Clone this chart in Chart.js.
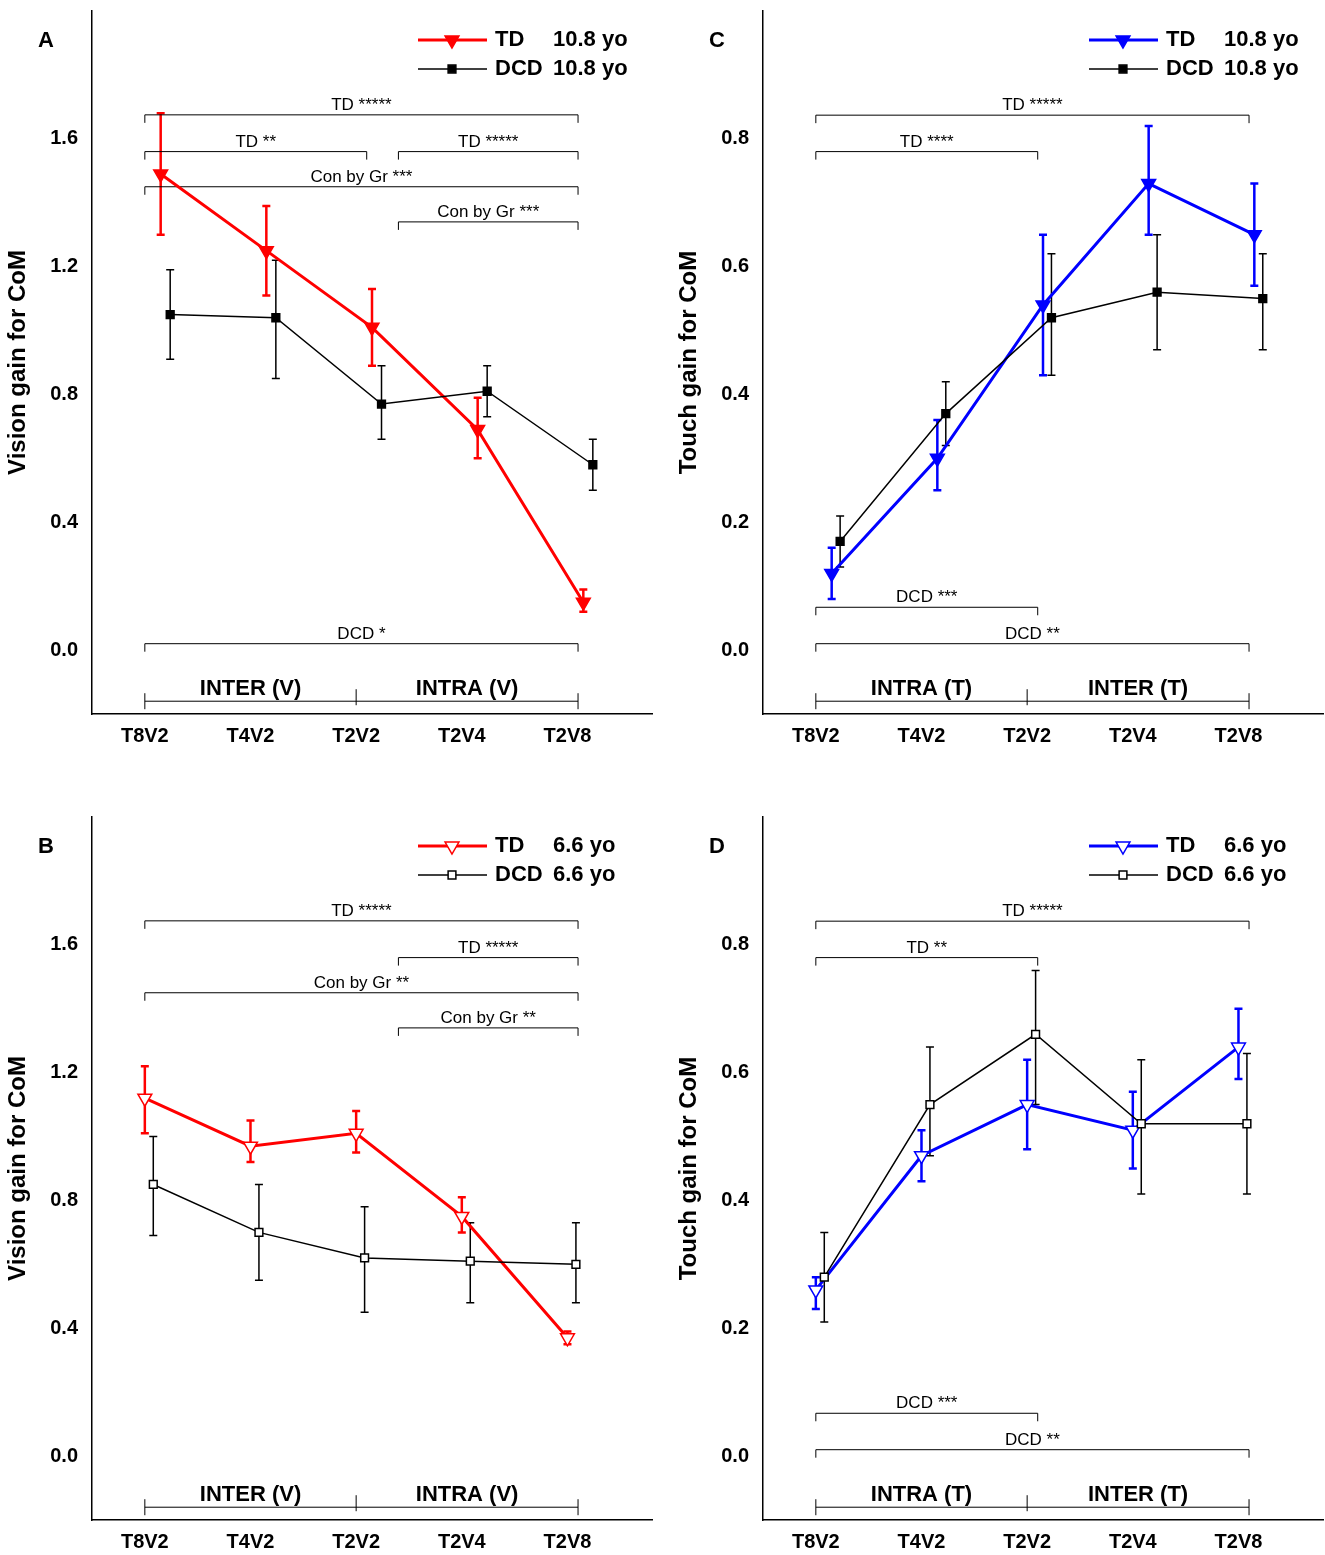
<!DOCTYPE html>
<html><head><meta charset="utf-8">
<script src="https://cdn.jsdelivr.net/npm/chart.js@4"></script>
<style>
body{margin:0;width:1325px;height:1555px;overflow:hidden;background:#fff;position:relative;font-family:Arial,"Liberation Sans",sans-serif}
.p{position:absolute;width:662px;height:792px}
</style></head><body>
<div class="p" style="left:0;top:-15px"><canvas id="cA"></canvas></div>
<div class="p" style="left:671px;top:-15px"><canvas id="cC"></canvas></div>
<div class="p" style="left:0;top:791px"><canvas id="cB"></canvas></div>
<div class="p" style="left:671px;top:791px"><canvas id="cD"></canvas></div>
<script>
const categories = ['T8V2', 'T4V2', 'T2V2', 'T2V4', 'T2V8'];

const tdA = [1.49, 1.25, 1.01, 0.69, 0.15];
const tdAErr = [[1.30, 1.68], [1.11, 1.39], [0.89, 1.13], [0.60, 0.79], [0.12, 0.19]];
const dcdA = [1.05, 1.04, 0.77, 0.81, 0.58];
const dcdAErr = [[0.91, 1.19], [0.85, 1.22], [0.66, 0.89], [0.73, 0.89], [0.50, 0.66]];

const tdB = [1.12, 0.97, 1.01, 0.75, 0.37];
const tdBErr = [[1.01, 1.22], [0.92, 1.05], [0.95, 1.08], [0.70, 0.81], [0.35, 0.39]];
const dcdB = [0.85, 0.70, 0.62, 0.61, 0.60];
const dcdBErr = [[0.69, 1.00], [0.55, 0.85], [0.45, 0.78], [0.48, 0.73], [0.48, 0.73]];

const tdC = [0.12, 0.30, 0.54, 0.73, 0.65];
const tdCErr = [[0.08, 0.16], [0.25, 0.36], [0.43, 0.65], [0.65, 0.82], [0.57, 0.73]];
const dcdC = [0.17, 0.37, 0.52, 0.56, 0.55];
const dcdCErr = [[0.13, 0.21], [0.32, 0.42], [0.43, 0.62], [0.47, 0.65], [0.47, 0.62]];

const tdD = [0.26, 0.47, 0.55, 0.51, 0.64];
const tdDErr = [[0.23, 0.28], [0.43, 0.51], [0.48, 0.62], [0.45, 0.57], [0.59, 0.70]];
const dcdD = [0.28, 0.55, 0.66, 0.52, 0.52];
const dcdDErr = [[0.21, 0.35], [0.47, 0.64], [0.55, 0.76], [0.41, 0.62], [0.41, 0.63]];

// significance brackets: [label, from, to, y]
const sigA = [['TD *****', 0, 4.1, 1.675], ['TD **', 0, 2.1, 1.56], ['TD *****', 2.4, 4.1, 1.56],
  ['Con by Gr ***', 0, 4.1, 1.45], ['Con by Gr ***', 2.4, 4.1, 1.34], ['DCD *', 0, 4.1, 0.02]];
const sigB = [['TD *****', 0, 4.1, 1.675], ['TD *****', 2.4, 4.1, 1.56],
  ['Con by Gr **', 0, 4.1, 1.45], ['Con by Gr **', 2.4, 4.1, 1.34]];
const sigC = [['TD *****', 0, 4.1, 0.837], ['TD ****', 0, 2.1, 0.78], ['DCD ***', 0, 2.1, 0.067], ['DCD **', 0, 4.1, 0.01]];
const sigD = [['TD *****', 0, 4.1, 0.837], ['TD **', 0, 2.1, 0.78], ['DCD ***', 0, 2.1, 0.067], ['DCD **', 0, 4.1, 0.01]];

const FONT = 'Arial, "Liberation Sans", sans-serif';

function draw(id, o) {
  const ds = (vals, err, off, color, style, rad, filled, w) => ({
    data: vals.map((v, i) => ({x: i + off, y: v})), err: err.map((e, i) => ({x: i + off, lo: e[0], hi: e[1]})),
    borderColor: color, backgroundColor: filled ? color : '#fff', borderWidth: w,
    pointStyle: style, pointRadius: rad, pointRotation: style === 'triangle' ? 180 : 0,
    pointBorderColor: color, pointBackgroundColor: filled ? color : '#fff', pointBorderWidth: 1.5, tension: 0
  });
  const deco = {
    id: 'deco',
    beforeDatasetsDraw(ch) {
      const c = ch.ctx, x = ch.scales.x, y = ch.scales.y;
      c.save();
      ch.data.datasets.forEach(d => {
        c.strokeStyle = d.borderColor; c.lineWidth = d.borderWidth === 3 ? 2.5 : 1.5;
        d.err.forEach(e => {
          const px = x.getPixelForValue(e.x), a = y.getPixelForValue(e.lo), b = y.getPixelForValue(e.hi);
          c.beginPath(); c.moveTo(px, a); c.lineTo(px, b);
          c.moveTo(px - 4, a); c.lineTo(px + 4, a); c.moveTo(px - 4, b); c.lineTo(px + 4, b); c.stroke();
        });
      });
      // brackets
      c.strokeStyle = '#000'; c.fillStyle = '#000'; c.lineWidth = 1;
      c.font = '17px ' + FONT; c.textAlign = 'center'; c.textBaseline = 'bottom';
      o.sig.forEach(s => {
        const a = x.getPixelForValue(s[1]), b = x.getPixelForValue(s[2]), py = y.getPixelForValue(s[3]);
        c.beginPath(); c.moveTo(a, py + 8); c.lineTo(a, py); c.lineTo(b, py); c.lineTo(b, py + 8); c.stroke();
        c.fillText(s[0], (a + b) / 2, py - 1);
      });
      // bottom group brackets
      const by = y.getPixelForValue(o.groupY);
      const x0 = x.getPixelForValue(0), x2 = x.getPixelForValue(2), x4 = x.getPixelForValue(4.1);
      c.beginPath();
      c.moveTo(x0, by - 8); c.lineTo(x0, by + 8); c.moveTo(x2, by - 12); c.lineTo(x2, by + 4);
      c.moveTo(x4, by - 8); c.lineTo(x4, by + 8); c.moveTo(x0, by); c.lineTo(x4, by); c.stroke();
      c.font = 'bold 22px ' + FONT; c.textBaseline = 'bottom';
      c.fillText(o.groups[0], (x0 + x2) / 2, by - 1); c.fillText(o.groups[1], (x2 + x4) / 2, by - 1);
      // panel letter
      c.textAlign = 'left'; c.textBaseline = 'middle'; c.font = 'bold 22px ' + FONT;
      c.fillText(o.letter, 38, 56);
      // legend
      const items = [[o.tdColor, 'triangle', 8, 'TD', 55], ['#000', 'rect', 5.5, 'DCD', 84]];
      items.forEach((it, k) => {
        const ly = it[4];
        c.strokeStyle = it[0]; c.lineWidth = k === 0 ? 3 : 1.5;
        c.beginPath(); c.moveTo(418, ly); c.lineTo(487, ly); c.stroke();
        c.fillStyle = o.filled ? it[0] : '#fff'; c.lineWidth = 1.5;
        Chart.helpers.drawPoint(c, {pointStyle: it[1], radius: it[2], rotation: it[1] === 'triangle' ? 180 : 0, borderWidth: 1.5}, 452, ly);
        c.fillStyle = '#000'; c.font = 'bold 22px ' + FONT;
        c.fillText(it[3], 495, ly); c.fillText(o.age + ' yo', 553, ly);
      });
      c.restore();
    }
  };
  new Chart(document.getElementById(id), {
    type: 'line',
    data: {datasets: [
      ds(o.dcd, o.dcdErr, o.dcdOff, '#000', 'rect', 5.5, o.filled, 1.5),
      ds(o.td, o.tdErr, o.tdOff, o.tdColor, 'triangle', 8, o.filled, 3)
    ]},
    options: {
      responsive: true, maintainAspectRatio: false, animation: false,
      layout: {padding: {top: 10, right: 10, left: 0, bottom: 0}},
      plugins: {legend: {display: false}, tooltip: {enabled: false}},
      scales: {
        x: {type: 'linear', min: -0.5, max: 4.8, grid: {display: false, drawTicks: false}, border: {color: '#000', width: 1.5},
          afterBuildTicks: s => { s.ticks = categories.map((c, i) => ({value: i})); },
          afterFit: s => { s.height = 63; },
          ticks: {callback: v => categories[v], color: '#000', padding: 10, font: {size: 20, weight: 'bold', family: FONT}}},
        y: {min: o.ymin, max: o.ymax, grid: {display: false, drawTicks: false}, border: {color: '#000', width: 1.5},
          afterBuildTicks: s => { s.ticks = o.yticks.map(v => ({value: v})); },
          afterFit: s => { s.width = 92; },
          ticks: {callback: v => v.toFixed(1), color: '#000', padding: 14, font: {size: 20, weight: 'bold', family: FONT}},
          title: {display: true, text: o.ylabel, color: '#000', padding: 4, font: {size: 24, weight: 'bold', family: FONT}}}
      }
    },
    plugins: [deco]
  });
}

const vTicks = [0, 0.4, 0.8, 1.2, 1.6], tTicks = [0, 0.2, 0.4, 0.6, 0.8];
draw('cA', {td: tdA, tdErr: tdAErr, dcd: dcdA, dcdErr: dcdAErr, tdOff: 0.15, dcdOff: 0.24, tdColor: '#ff0000', filled: true,
  ymin: -0.2, ymax: 2.0, yticks: vTicks, ylabel: 'Vision gain for CoM', sig: sigA, groupY: -0.16, groups: ['INTER (V)', 'INTRA (V)'], letter: 'A', age: '10.8'});
draw('cB', {td: tdB, tdErr: tdBErr, dcd: dcdB, dcdErr: dcdBErr, tdOff: 0, dcdOff: 0.08, tdColor: '#ff0000', filled: false,
  ymin: -0.2, ymax: 2.0, yticks: vTicks, ylabel: 'Vision gain for CoM', sig: sigB, groupY: -0.16, groups: ['INTER (V)', 'INTRA (V)'], letter: 'B', age: '6.6'});
draw('cC', {td: tdC, tdErr: tdCErr, dcd: dcdC, dcdErr: dcdCErr, tdOff: 0.15, dcdOff: 0.23, tdColor: '#0000ff', filled: true,
  ymin: -0.1, ymax: 1.0, yticks: tTicks, ylabel: 'Touch gain for CoM', sig: sigC, groupY: -0.08, groups: ['INTRA (T)', 'INTER (T)'], letter: 'C', age: '10.8'});
draw('cD', {td: tdD, tdErr: tdDErr, dcd: dcdD, dcdErr: dcdDErr, tdOff: 0, dcdOff: 0.08, tdColor: '#0000ff', filled: false,
  ymin: -0.1, ymax: 1.0, yticks: tTicks, ylabel: 'Touch gain for CoM', sig: sigD, groupY: -0.08, groups: ['INTRA (T)', 'INTER (T)'], letter: 'D', age: '6.6'});
</script>
</body></html>
